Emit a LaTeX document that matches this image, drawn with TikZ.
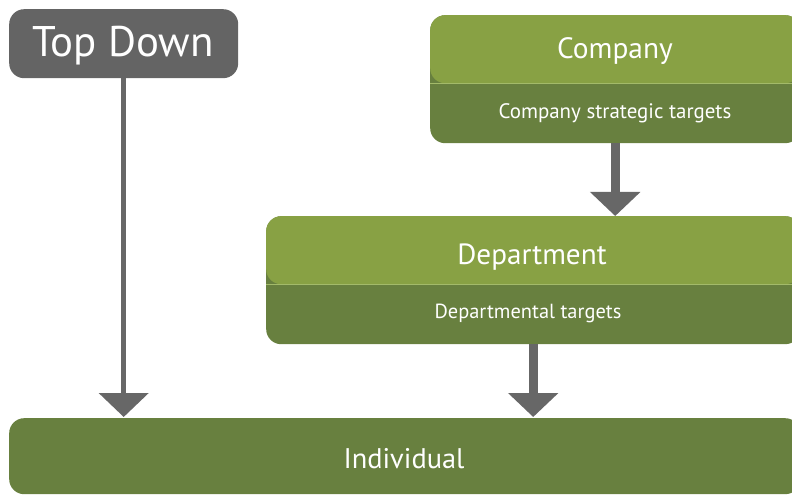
\documentclass[tikz,border=0pt]{standalone}
\usepackage{fontspec}
\setmainfont{PT Sans}
\usetikzlibrary{arrows.meta}
\definecolor{boxgray}{HTML}{646464}
\definecolor{arrgray}{HTML}{676767}
\definecolor{ltgreen}{HTML}{88A144}
\definecolor{dkgreen}{HTML}{68803F}
\definecolor{sepgreen}{HTML}{A3BA6A}
\tikzset{
  box/.style={draw=none, rounded corners=15bp, anchor=north west, inner sep=0pt},
  splitbox/.style={box, fill=dkgreen, path picture={
      \fill[ltgreen] (path picture bounding box.north west) rectangle ([yshift=-#1]path picture bounding box.north east);
      \draw[sepgreen, line width=1bp] ([yshift=-#1]path picture bounding box.north west) -- ([yshift=-#1]path picture bounding box.north east);
  }},
  lbl/.style={text=white, inner sep=0pt, anchor=base},
  shaft/.style={draw=arrgray, line width=#1, -{Triangle[width=49bp 0 0,length=24bp 0 0]}, fill=arrgray},
}
\begin{document}
\begin{tikzpicture}[x=1bp, y=-1bp]
\useasboundingbox (0,0) rectangle (792,495);
\clip (0,0) rectangle (792,495);
% boxes
\node[box, fill=boxgray, minimum width=229bp, minimum height=69bp] (topdown) at (9,9) {};
\node[splitbox=68bp, minimum width=370bp, minimum height=128bp] (company) at (430,15) {};
\node[splitbox=68bp, minimum width=534bp, minimum height=128bp] (department) at (266,216) {};
\node[box, fill=dkgreen, minimum width=791bp, minimum height=76bp] (individual) at (9,418) {};
% labels
\node[lbl, font=\fontsize{43}{43}\selectfont] (tdT) at (123,57) {Top Down};
\node[lbl, font=\fontsize{29.5}{30}\selectfont] (coT) at (615,58.5) {Company};
\node[lbl, font=\fontsize{21}{22}\selectfont] (coS) at (615,119) {Company strategic targets};
\node[lbl, font=\fontsize{29.3}{30}\selectfont] (deT) at (532,264.5) {Department};
\node[lbl, font=\fontsize{20.5}{21}\selectfont] (deS) at (528,318) {Departmental targets};
\node[lbl, font=\fontsize{28.5}{29}\selectfont] (inT) at (404,468) {Individual};
% arrows
\draw[shaft=5bp] (topdown.south) -- ([yshift=1bp]topdown.south |- individual.north);
\draw[shaft=9bp] (company.south) -- (company.south |- department.north);
\draw[shaft=9bp] (department.south) -- ([yshift=1bp]department.south |- individual.north);
\end{tikzpicture}
\end{document}
